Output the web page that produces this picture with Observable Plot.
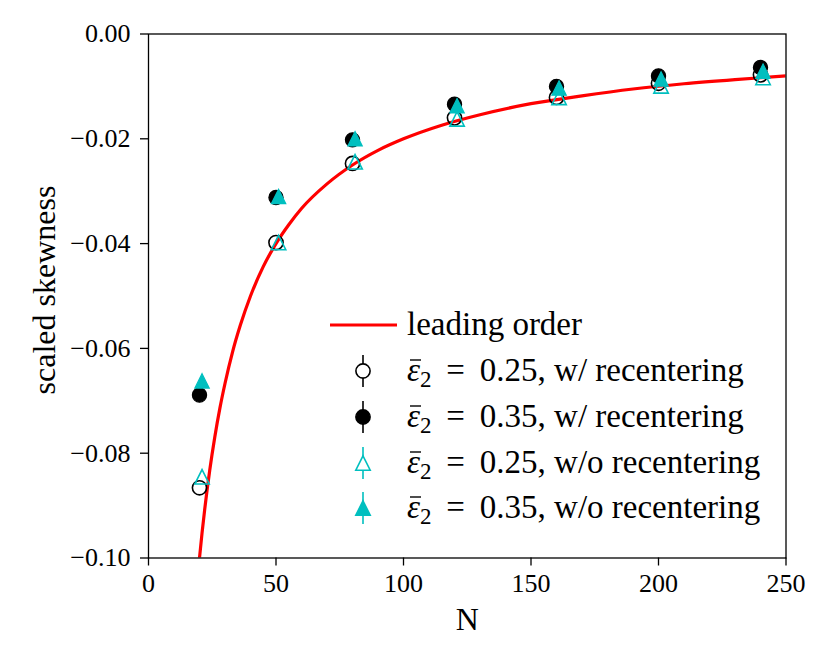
<!DOCTYPE html>
<html>
<head>
<meta charset="utf-8">
<script src="https://cdn.jsdelivr.net/npm/d3@7"></script>
<script src="https://cdn.jsdelivr.net/npm/@observablehq/plot@0.6"></script>
<style>
  html, body { margin: 0; padding: 0; background: #fff; }
  #chart { position: relative; width: 830px; height: 654px; }
</style>
</head>
<body>
<div id="chart"></div>
<script>
// ---- data ----
const nCircle   = [20, 50, 80, 120, 160, 200, 240];
const nTriangle = [21, 51, 81, 121, 161, 201, 241];
const open25w   = [-0.0866, -0.0398, -0.0247, -0.0160, -0.0121, -0.0094, -0.0078];
const fill35w   = [-0.0689, -0.0312, -0.0202, -0.0134, -0.0100, -0.0080, -0.0064];
const open25wo  = [-0.0845, -0.0398, -0.0244, -0.0162, -0.0121, -0.0099, -0.0083];
const fill35wo  = [-0.0662, -0.0310, -0.0200, -0.0137, -0.0103, -0.0086, -0.0071];

const curveN = [20, 21, 22, 24, 26, 28, 30, 33, 36, 40, 45, 50, 55, 60, 70, 80, 90, 100, 115, 130, 150, 170, 190, 210, 230, 250];
const curveY = [-0.1000, -0.0952, -0.0909, -0.0833, -0.0769, -0.0714, -0.0667, -0.0606, -0.0556, -0.0500, -0.0444, -0.0400, -0.0364, -0.0333, -0.0286, -0.0250, -0.0222, -0.0200, -0.0174, -0.0154, -0.0133, -0.0118, -0.0105, -0.0095, -0.0087, -0.0080];

const xTicks = [0, 50, 100, 150, 200, 250];
const yTicks = [0, -0.02, -0.04, -0.06, -0.08, -0.10];

const legendLabels = [
  "leading order",
  ["0.25", "w/ recentering"],
  ["0.35", "w/ recentering"],
  ["0.25", "w/o recentering"],
  ["0.35", "w/o recentering"]
];

const RED = "#ff0000", CYAN = "#00bfbf";
const FONT = "'Liberation Serif', 'DejaVu Serif', serif";

const zip = (xs, ys) => xs.map((x, i) => ({x, y: ys[i]}));
const curve = zip(curveN, curveY);

// matplotlib-like "^" marker (bbox centred, width = height)
const tri = {
  draw(ctx, size) {
    const s = Math.sqrt(size / Math.PI);
    ctx.moveTo(0, -s);
    ctx.lineTo(s, s);
    ctx.lineTo(-s, s);
    ctx.closePath();
  }
};

const fmt = d => d3.format(".2f")(d);

const plot = Plot.plot({
  width: 830,
  height: 654,
  marginLeft: 148,
  marginRight: 44.5,
  marginTop: 33.5,
  marginBottom: 96.5,
  style: {fontFamily: FONT, fontSize: "26px", background: "#fff", color: "black"},
  x: {domain: [0, 250]},
  y: {domain: [-0.1, 0]},
  marks: [
    Plot.line(curve, {x: "x", y: "y", stroke: RED, strokeWidth: 3.2, curve: "monotone-x", clip: true}),
    Plot.dot(zip(nCircle, open25w), {x: "x", y: "y", r: 7.1, stroke: "black", strokeWidth: 1.6, fill: "none"}),
    Plot.dot(zip(nCircle, fill35w), {x: "x", y: "y", r: 7.1, stroke: "black", strokeWidth: 1.2, fill: "black"}),
    Plot.dot(zip(nTriangle, open25wo), {x: "x", y: "y", r: 7.2, symbol: tri, stroke: CYAN, strokeWidth: 1.6, fill: "none"}),
    Plot.dot(zip(nTriangle, fill35wo), {x: "x", y: "y", r: 7.2, symbol: tri, stroke: CYAN, strokeWidth: 1.2, fill: CYAN}),
    Plot.frame({stroke: "black", strokeWidth: 1.3}),
    Plot.axisX({ticks: xTicks, tickSize: 8, tickPadding: 8, label: null, strokeWidth: 1.3}),
    Plot.axisY({ticks: yTicks, tickSize: 8, tickPadding: 10, label: null, tickFormat: fmt, strokeWidth: 1.3}),
    Plot.text(["scaled skewness"], {frameAnchor: "left", textAnchor: "middle", lineAnchor: "middle", rotate: -90, dx: -104, dy: -6, fontSize: 32, fill: "black"}),
    Plot.text(["N"], {frameAnchor: "bottom", lineAnchor: "bottom", dy: 72, fontSize: 32, fill: "black"})
  ]
});

document.getElementById("chart").appendChild(plot);

// ---- legend ----
const svg = d3.select(plot);
const lg = svg.append("g").attr("font-family", FONT).attr("font-size", 33).attr("text-anchor", "start");
const rowY = [325, 371, 417, 463, 508];
const symX = 363, textX = 407;

// leading order line
lg.append("line").attr("x1", 330).attr("x2", 397).attr("y1", rowY[0]).attr("y2", rowY[0])
  .attr("stroke", RED).attr("stroke-width", 3.2);

const symbols = [
  {shape: "circle", fill: "#fff", stroke: "black", ebar: "black"},
  {shape: "circle", fill: "black", stroke: "black", ebar: "black"},
  {shape: "tri", fill: "#fff", stroke: CYAN, ebar: CYAN},
  {shape: "tri", fill: CYAN, stroke: CYAN, ebar: CYAN}
];
symbols.forEach((s, i) => {
  const y = rowY[i + 1];
  lg.append("line").attr("x1", symX).attr("x2", symX).attr("y1", y - 16).attr("y2", y + 16)
    .attr("stroke", s.ebar).attr("stroke-width", 1.6);
  if (s.shape === "circle") {
    lg.append("circle").attr("cx", symX).attr("cy", y).attr("r", 7.1)
      .attr("fill", s.fill).attr("stroke", s.stroke).attr("stroke-width", 1.6);
  } else {
    const p = d3.path(); tri.draw(p, Math.PI * 7.2 * 7.2);
    lg.append("path").attr("d", p.toString()).attr("transform", `translate(${symX},${y})`)
      .attr("fill", s.fill).attr("stroke", s.stroke).attr("stroke-width", 1.6);
  }
});

legendLabels.forEach((lab, i) => {
  const baseY = rowY[i] + 10;
  const t = lg.append("text").attr("x", textX).attr("y", baseY).attr("fill", "black");
  if (typeof lab === "string") {
    t.text(lab);
  } else {
    t.append("tspan").attr("font-style", "italic").text("\u03B5");
    t.append("tspan").attr("font-size", 23).attr("dy", 6).text("2");
    t.append("tspan").attr("dy", -6).text("\u2009\u2005=\u2009\u2005" + lab[0] + ", " + lab[1]);
    // bar over epsilon
    const ext = t.node().getExtentOfChar(0);
    lg.append("line")
      .attr("x1", ext.x + 3).attr("x2", ext.x + ext.width + 1)
      .attr("y1", baseY - 21).attr("y2", baseY - 21)
      .attr("stroke", "black").attr("stroke-width", 1.4);
  }
});
</script>
</body>
</html>
